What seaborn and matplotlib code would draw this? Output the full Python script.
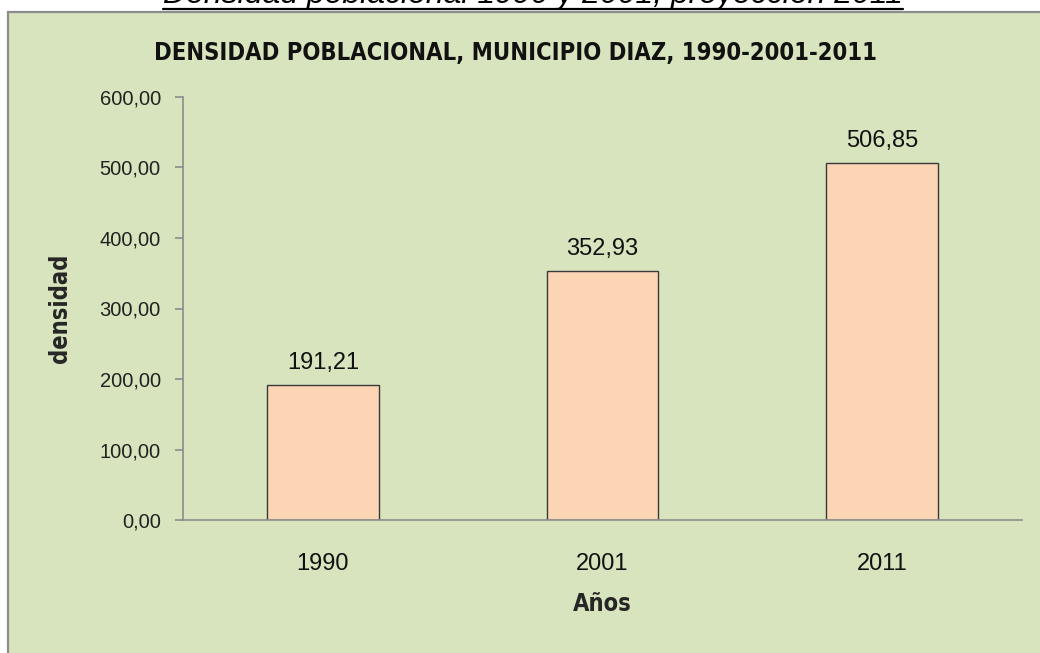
import matplotlib
matplotlib.use("Agg")
import matplotlib.pyplot as plt
from matplotlib.patches import Rectangle
from matplotlib.lines import Line2D
import seaborn as sns

# data
years = ["1990", "2001", "2011"]
densidad = [191.21, 352.93, 506.85]
y_ticks = [0, 100, 200, 300, 400, 500, 600]

page_title = "Densidad poblacional 1990 y 2001, proyección 2011"
chart_title = "DENSIDAD POBLACIONAL, MUNICIPIO DIAZ, 1990-2001-2011"

sns.set_style("white")
plt.rcParams['font.family'] = ['Liberation Sans', 'DejaVu Sans']
narrow = dict(family="DejaVu Sans", fontstretch="condensed", fontweight="bold")

W, H = 1040, 653
fig = plt.figure(figsize=(W / 100, H / 100), dpi=100)
fig.patch.set_facecolor("white")

# chart area (green panel with gray border, cut by the image edges)
panel = Rectangle((8 / W, -0.1), 1.2, 1 - 12 / H + 0.1, transform=fig.transFigure,
                  facecolor="#d7e4bd", edgecolor="#8c8c8c", linewidth=1.6, zorder=-5)
fig.patches.append(panel)

ax = fig.add_axes([183 / W, 1 - 520 / H, (1022 - 183) / W, (520 - 97) / H])
ax.set_facecolor("none")
ax.set_zorder(2)

sns.barplot(x=years, y=densidad, color="#fcd5b5", edgecolor="#3a3a3a",
            linewidth=1.0, width=0.4, saturation=1, ax=ax)

ax.set_xlim(-0.5, 2.5)
ax.set_ylim(0, 600)
ax.set_yticks(y_ticks)
ax.set_yticklabels([f"{v:.2f}".replace(".", ",") for v in y_ticks])

# category boundaries carry the tick marks
ax.set_xticks([-0.5, 0.5, 1.5, 2.5], minor=True)
ax.tick_params(axis="x", which="major", length=0, pad=24, labelsize=17, labelcolor="#111111")
ax.tick_params(axis="x", which="minor", length=6, width=1.2, color="#8c8c8c", direction="out")
ax.tick_params(axis="y", length=6, width=1.2, color="#8c8c8c", direction="out",
               pad=10, labelsize=14.5, labelcolor="#222222", left=True)

for side in ["top", "right"]:
    ax.spines[side].set_visible(False)
for side in ["left", "bottom"]:
    ax.spines[side].set_color("#8c8c8c")
    ax.spines[side].set_linewidth(1.2)

ax.bar_label(ax.containers[0], labels=[f"{v:.2f}".replace(".", ",") for v in densidad],
             padding=8, fontsize=17, color="#111111")

ax.set_xlabel("Años", fontsize=17, labelpad=12, **narrow)
ax.set_ylabel("densidad", fontsize=17, labelpad=20, **narrow)

fig.text(515 / W, 1 - 53 / H, chart_title, ha="center", va="center",
         fontsize=17, color="#111111", **narrow)

# page caption above the chart, partly cut off, underlined
cap = fig.text(533 / W, 1 - 3 / H, page_title, ha="center", va="baseline",
               fontsize=23, style="italic", color="black")
fig.canvas.draw()
bb = cap.get_window_extent().transformed(fig.transFigure.inverted())
fig.add_artist(Line2D([bb.x0, bb.x1], [1 - 9 / H, 1 - 9 / H], transform=fig.transFigure,
                      color="black", linewidth=1.6))

fig.savefig("out.png", dpi=100, facecolor=fig.get_facecolor())
